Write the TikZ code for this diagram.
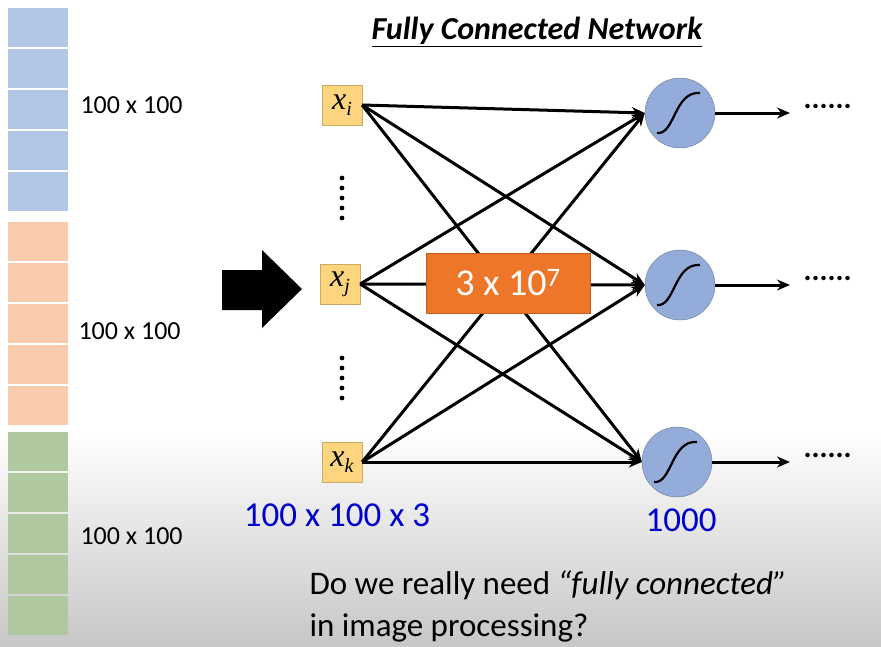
\documentclass[tikz,border=0pt]{standalone}
\usepackage{fontspec}
\setmainfont{Carlito}
\newfontfamily\varfont{Liberation Serif}
\usetikzlibrary{arrows.meta}
\definecolor{cellblue}{RGB}{178,198,230}
\definecolor{cellorange}{RGB}{248,203,173}
\definecolor{cellgreen}{RGB}{176,200,160}
\definecolor{inbox}{RGB}{252,213,126}
\definecolor{neuron}{RGB}{148,172,218}
\definecolor{boxorange}{RGB}{237,118,40}
\newcommand{\xvar}[1]{x\raisebox{-6pt}{\fontsize{20}{20}\selectfont #1}}
\begin{document}
\begin{tikzpicture}[x=1pt,y=-1pt,
  cell/.style={minimum width=60pt,minimum height=39pt,inner sep=0pt},
  xin/.style={fill=inbox,draw=inbox!80!black,minimum width=40pt,minimum height=40pt,inner sep=0pt,font=\varfont\itshape\fontsize{32}{32}\selectfont},
  unit/.style={circle,fill=neuron,draw=neuron!70!black,minimum size=70pt,inner sep=0pt},
  edge/.style={line width=3pt,-{Stealth[length=13pt,width=11pt]}},
  lbl/.style={font=\fontsize{26}{26}\selectfont,anchor=west}]
\useasboundingbox (0,0) rectangle (881,646);
\shade[top color=white,bottom color=black!22] (0,430) rectangle (881,646);

%Columna de celdas
\foreach \c/\y in {cellblue/8,cellorange/222,cellgreen/432}{
  \foreach \k in {0,...,4}{
    \node[cell,fill=\c,anchor=north west] at (8,\y+\k*41) {};
  }
}
\node[lbl] (la) at (77,105) {100 x 100};
\node[lbl] (lb) at (75,331) {100 x 100};
\node[lbl] (lc) at (77,536) {100 x 100};

%Flecha gruesa
\fill (222,270) -- (262,270) -- (262,250) -- (302,289) -- (262,328) -- (262,310) -- (222,310) -- cycle;

\node[font=\fontsize{32}{32}\selectfont\bfseries\itshape] (title) at (537,32) {\underline{Fully Connected Network}};

%Entradas y neuronas
\node[xin] (xi) at (342,105) {\xvar{i}};
\node[xin] (xj) at (340,284) {\xvar{j}};
\node[xin] (xk) at (342,462) {\xvar{k}};
\node[unit] (ni) at (680,113) {};
\node[unit] (nj) at (680,285) {};
\node[unit] (nk) at (677,462) {};
\foreach \n in {ni,nj,nk}{
  \draw[line width=2.2pt] ([xshift=-23pt,yshift=-20pt]\n.center) .. controls ([xshift=-5pt,yshift=-22pt]\n.center) and ([xshift=-6pt,yshift=22pt]\n.center) .. ([xshift=20pt,yshift=20pt]\n.center);
}
\foreach \y in {178,188,...,224}{ \fill (342,\y) circle (2.4pt); }
\foreach \y in {358,368,...,404}{ \fill (342,\y) circle (2.4pt); }

\foreach \a in {xi,xj,xk}{
  \foreach \b in {ni,nj,nk}{
    \draw[edge] (\a.east) -- (\b.west);
  }
}
\foreach \n/\y in {ni/113,nj/285,nk/462}{
  \coordinate (e\n) at (790,\y);
  \draw[edge] (\n.east) -- (e\n);
  \node[anchor=west,font=\fontsize{30}{30}\selectfont\bfseries] (d\n) at (800,\y-7) {......};
}

\node[fill=boxorange,draw=boxorange!80!black,minimum width=164pt,minimum height=60pt,text=white,font=\fontsize{38}{38}\selectfont] (w) at (508,283) {3 x 10\textsuperscript{7}};

\node[text=blue!80!black,font=\fontsize{35}{35}\selectfont] (nin) at (337,515) {100 x 100 x 3};
\node[text=blue!80!black,font=\fontsize{35}{35}\selectfont] (nout) at (681,520) {1000};
\node[anchor=west,align=left,font=\fontsize{33}{42}\selectfont] (q) at (306,606) {Do we really need \emph{``fully connected''}\\in image processing?};
\end{tikzpicture}
\end{document}
